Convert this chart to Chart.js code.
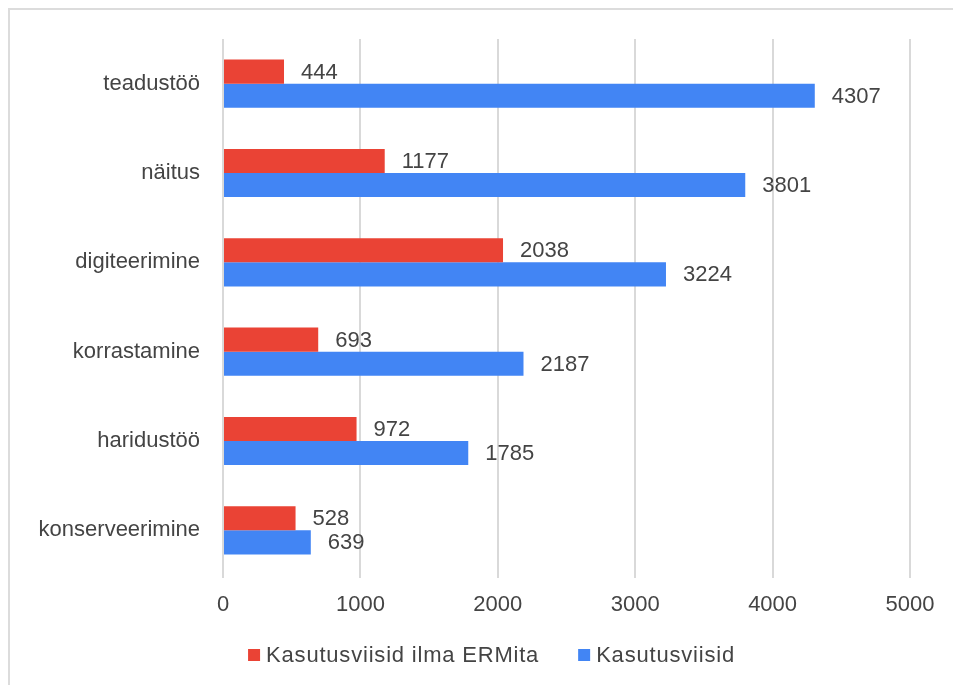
<!DOCTYPE html>
<html>
<head>
<meta charset="utf-8">
<script src="https://cdn.jsdelivr.net/npm/chart.js@4"></script>
<style>
  html, body { margin: 0; padding: 0; background: #fff; overflow: hidden; }
  #frame {
    position: absolute; left: 8px; top: 8px; width: 1000px; height: 1000px;
    border: 2px solid #dcdcdc; box-sizing: border-box;
  }
  #wrap { position: absolute; left: 0; top: 0; width: 953px; height: 685px; }
</style>
</head>
<body>
<div id="frame"></div>
<div id="wrap"><canvas id="chart"></canvas></div>
<script>
let categories = ["teadustöö", "näitus", "digiteerimine", "korrastamine", "haridustöö", "konserveerimine"];
let withoutERM = [444, 1177, 2038, 693, 972, 528];
let allUses = [4307, 3801, 3224, 2187, 1785, 639];
let xTicks = [0, 1000, 2000, 3000, 4000, 5000];

let textColor = "#444";
let fontFamily = "'Liberation Sans', Arial, sans-serif";

// value labels to the right of each bar
let valueLabels = {
  id: "valueLabels",
  afterDatasetsDraw(chart) {
    let ctx = chart.ctx;
    ctx.save();
    ctx.font = "22px " + fontFamily;
    ctx.fillStyle = textColor;
    ctx.textAlign = "left";
    ctx.textBaseline = "middle";
    chart.data.datasets.forEach((ds, i) => {
      chart.getDatasetMeta(i).data.forEach((bar, j) => {
        ctx.fillText(ds.data[j], bar.x + 17, bar.y + 1);
      });
    });
    ctx.restore();
  },
};

// bottom legend: small square, short gap, then text
let bottomLegend = {
  id: "bottomLegend",
  afterDraw(chart) {
    let ctx = chart.ctx;
    ctx.save();
    ctx.font = "22px " + fontFamily;
    if ("letterSpacing" in ctx) ctx.letterSpacing = "0.8px";
    ctx.textBaseline = "middle";
    ctx.textAlign = "left";
    let box = 12, gap = 6, itemGap = 39;
    let items = chart.data.datasets.map((ds) => ({
      text: ds.label,
      color: ds.backgroundColor,
      w: box + gap + ctx.measureText(ds.label).width,
    }));
    let total = items.reduce((a, it) => a + it.w, 0) + itemGap * (items.length - 1);
    let x = (chart.width + 30) / 2 - total / 2;
    let y = 655;
    items.forEach((it) => {
      ctx.fillStyle = it.color;
      ctx.fillRect(x, y - box / 2, box, box);
      ctx.fillStyle = textColor;
      ctx.fillText(it.text, x + box + gap, y + 1);
      x += it.w + itemGap;
    });
    ctx.restore();
  },
};

let ctx = document.querySelector("#chart");
new Chart(ctx, {
  type: "bar",
  data: {
    labels: categories,
    datasets: [
      {
        label: "Kasutusviisid ilma ERMita",
        data: withoutERM,
        backgroundColor: "#EA4335",
        categoryPercentage: 0.54,
        barPercentage: 1,
      },
      {
        label: "Kasutusviisid",
        data: allUses,
        backgroundColor: "#4285F4",
        categoryPercentage: 0.54,
        barPercentage: 1,
      },
    ],
  },
  plugins: [valueLabels, bottomLegend],
  options: {
    indexAxis: "y",
    responsive: true,
    maintainAspectRatio: false,
    animation: false,
    layout: { padding: { top: 39, right: 43, bottom: 65, left: 0 } },
    scales: {
      x: {
        min: 0,
        max: 5000,
        afterBuildTicks: (s) => { s.ticks = xTicks.map((v) => ({ value: v })); },
        afterFit: (s) => { s.height = 45; },
        grid: { color: "#d9d9d9", lineWidth: 2, drawTicks: true, tickLength: 3 },
        border: { display: false },
        ticks: {
          color: textColor,
          font: { size: 22, family: fontFamily },
          padding: 14,
          callback: (v) => String(v),
        },
      },
      y: {
        afterFit: (s) => { s.width = 223; },
        grid: { display: false },
        border: { display: false },
        ticks: { color: textColor, font: { size: 22, family: fontFamily }, padding: 15 },
      },
    },
    plugins: {
      legend: { display: false },
      tooltip: { enabled: false },
    },
  },
});
</script>
</body>
</html>
